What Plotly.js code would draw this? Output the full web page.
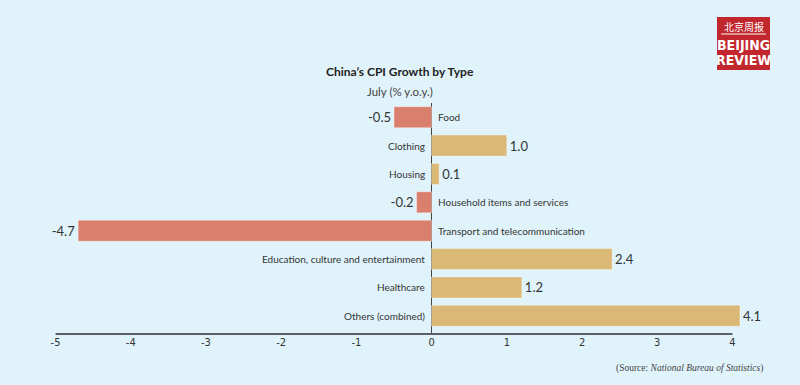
<!DOCTYPE html>
<html>
<head>
<meta charset="utf-8">
<script src="https://cdn.plot.ly/plotly-3.0.1.min.js"></script>
<style>
html,body{margin:0;padding:0;background:#e0f3fb;}
#chart{width:800px;height:385px;}
</style>
</head>
<body>
<div id="chart"></div>
<script>
var categories = ["Food", "Clothing", "Housing", "Household items and services", "Transport and telecommunication", "Education, culture and entertainment", "Healthcare", "Others (combined)"];
var values = [-0.5, 1.0, 0.1, -0.2, -4.7, 2.4, 1.2, 4.1];
var valueLabels = ["-0.5", "1.0", "0.1", "-0.2", "-4.7", "2.4", "1.2", "4.1"];
var tickValues = [-5, -4, -3, -2, -1, 0, 1, 2, 3, 4];
var tickLabels = ["-5", "-4", "-3", "-2", "-1", "0", "1", "2", "3", "4"];

var RED = "#da7f6d", GOLD = "#d9b975";
var colors = values.map(function(v){ return v < 0 ? RED : GOLD; });

var trace = {
  type: "bar",
  orientation: "h",
  x: values,
  y: categories,
  width: 0.74,
  marker: {color: colors, line: {color: "rgba(255,255,255,0.35)", width: 1}},
  text: valueLabels,
  textposition: "outside",
  textfont: {family: "Lato, 'Open Sans', sans-serif", size: 13, color: "#333"},
  cliponaxis: false,
  hoverinfo: "none"
};

var annotations = categories.map(function(c, i){
  var neg = values[i] < 0;
  return {
    x: 0, y: c, xref: "x", yref: "y",
    text: c, showarrow: false,
    xanchor: neg ? "left" : "right", yanchor: "middle",
    xshift: neg ? 4 : -5,
    font: {family: "Lato, 'Open Sans', sans-serif", size: 10, color: "#333"}
  };
});

// Titles and source
annotations.push({xref:"paper", yref:"paper", x:0.508, y:1.0, xanchor:"center", yanchor:"bottom",
  text:"<b>China\u2019s CPI Growth by Type</b>", showarrow:false, yshift:22,
  font:{family:"Lato, 'Open Sans', sans-serif", size:12, color:"#222"}});
annotations.push({xref:"paper", yref:"paper", x:0.508, y:1.0, xanchor:"center", yanchor:"bottom",
  text:"July (% y.o.y.)", showarrow:false, yshift:3,
  font:{family:"Lato, 'Open Sans', sans-serif", size:11.5, color:"#444"}});
annotations.push({xref:"paper", yref:"paper", x:1.0, y:0, xanchor:"right", yanchor:"middle",
  text:"(Source: <i>National Bureau of Statistics</i>)", showarrow:false, xshift:10, yshift:-34,
  font:{family:"'Liberation Serif', 'DejaVu Serif', serif", size:9.5, color:"#444"}});

// Logo texts (paper coords relative to plot area)
var L = 33, T = 103, W = 722, H = 231;
function px(x){ return (x - L) / W; }
function py(y){ return (T + H - y) / H; }
annotations.push({xref:"paper", yref:"paper", x:px(743.5), y:py(26), xanchor:"center", yanchor:"middle",
  text:"\u5317\u4eac\u5468\u62a5", showarrow:false,
  font:{family:"'Noto Sans CJK SC', sans-serif", size:10, color:"#fff"}});
annotations.push({xref:"paper", yref:"paper", x:px(743.5), y:py(45), xanchor:"center", yanchor:"middle",
  text:"<b>BEIJING</b>", showarrow:false,
  font:{family:"'Liberation Sans Narrow', 'DejaVu Sans Condensed', 'Liberation Sans', sans-serif", size:14, color:"#fff"}});
annotations.push({xref:"paper", yref:"paper", x:px(743.5), y:py(60), xanchor:"center", yanchor:"middle",
  text:"<b>REVIEW</b>", showarrow:false,
  font:{family:"'Liberation Sans Narrow', 'DejaVu Sans Condensed', 'Liberation Sans', sans-serif", size:14, color:"#fff"}});

var shapes = [
  {type:"line", xref:"x", yref:"paper", x0:-5, x1:4, y0:0, y1:0, line:{color:"#5a5f66", width:2}},
  {type:"rect", xref:"paper", yref:"paper", x0:px(717), x1:px(770), y0:py(70), y1:py(17), fillcolor:"#c1272d", line:{width:0}},
  {type:"line", xref:"paper", yref:"paper", x0:px(721), x1:px(766), y0:py(34), y1:py(34), line:{color:"#fff", width:1}}
];

var layout = {
  width: 800, height: 385,
  paper_bgcolor: "#e0f3fb", plot_bgcolor: "#e0f3fb",
  margin: {l: L, r: 800 - L - W, t: T, b: 385 - T - H},
  showlegend: false,
  xaxis: {
    range: [-5.3, 4.3], showgrid: false, showline: false,
    zeroline: true, zerolinecolor: "#444", zerolinewidth: 1,
    tickmode: "array", tickvals: tickValues, ticktext: tickLabels,
    ticks: "", ticklen: 0,
    tickfont: {family: "'DejaVu Sans Condensed', 'Liberation Sans', sans-serif", size: 11, color: "#333"},
    fixedrange: true
  },
  yaxis: {
    type: "category", categoryorder: "array", categoryarray: categories,
    range: [7.64, -0.5], showticklabels: false, showgrid: false, showline: false, zeroline: false,
    fixedrange: true
  },
  annotations: annotations,
  shapes: shapes
};

Plotly.newPlot("chart", [trace], layout, {displayModeBar: false, staticPlot: true});
</script>
</body>
</html>
